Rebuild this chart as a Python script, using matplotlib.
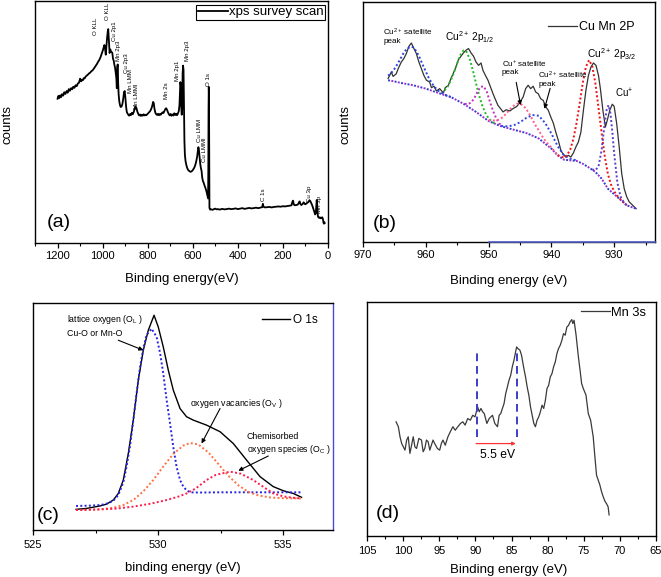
import matplotlib
matplotlib.use('Agg')
import matplotlib.pyplot as plt
from matplotlib.ticker import MultipleLocator

plt.rcParams['font.family'] = ['Liberation Sans', 'DejaVu Sans']
plt.rcParams['mathtext.fontset'] = 'custom'
plt.rcParams['mathtext.rm'] = 'Liberation Sans'
plt.rcParams['mathtext.it'] = 'Liberation Sans:italic'
plt.rcParams['mathtext.default'] = 'rm'

# ---------------- (a) survey scan ----------------
survey_pts = [
    (1200, 59.6), (1196, 60.8), (1192, 59.9), (1188, 61.0), (1184, 60.3), (1180, 61.5), (1175, 60.9),
    (1170, 62.3), (1165, 61.6), (1160, 62.8), (1155, 62.1), (1150, 63.6), (1145, 62.9), (1140, 64.0),
    (1135, 63.5), (1130, 64.6), (1125, 64.1), (1120, 65.2), (1115, 64.8), (1110, 65.9), (1105, 66.2),
    (1100, 67.9), (1096, 66.8), (1092, 67.5), (1088, 67.2), (1084, 68.1), (1080, 68.0), (1075, 68.8),
    (1070, 69.2), (1065, 69.6), (1060, 70.1), (1055, 70.4), (1050, 71.0), (1045, 71.3), (1040, 71.9),
    (1035, 72.6), (1030, 73.3), (1025, 74.0), (1020, 74.9), (1015, 75.6), (1010, 76.6), (1005, 77.9),
    (1000, 79.3), (996, 80.6), (992, 81.8), (989, 80.2), (986, 77.8), (983, 81.5), (980, 85.0),
    (977, 87.5), (975, 88.4), (973, 85.0), (971, 81.0), (969, 78.5), (966, 80.0), (963, 79.2),
    (960, 78.9), (957, 78.6), (954, 76.2), (951, 75.4), (948, 73.8), (945, 72.5), (942, 70.5),
    (939, 68.0), (937, 64.0), (935, 72.8), (933, 73.8), (931, 66.0), (929, 61.5), (926, 58.5),
    (923, 57.0), (920, 56.2), (916, 56.4), (912, 57.5), (908, 60.0), (905, 62.3), (902, 62.8),
    (899, 60.0), (896, 56.5), (893, 54.3), (890, 53.6), (886, 53.0), (882, 52.6), (878, 53.3),
    (874, 52.9), (870, 53.8), (866, 53.2), (862, 54.1), (858, 55.4), (854, 56.4), (850, 55.8),
    (846, 54.3), (842, 53.4), (838, 52.7), (834, 53.1), (830, 52.5), (826, 53.0), (822, 52.6),
    (818, 53.2), (814, 52.7), (810, 53.0), (806, 52.8), (800, 53.4), (795, 53.9), (790, 54.4),
    (785, 55.2), (780, 56.6), (776, 58.3), (773, 57.8), (770, 55.5), (766, 53.8), (762, 53.2),
    (758, 52.9), (754, 53.4), (750, 52.8), (746, 53.3), (742, 53.0), (738, 53.6), (734, 54.0),
    (730, 53.7), (726, 54.5), (722, 55.3), (718, 55.7), (714, 55.0), (710, 54.0), (706, 53.2),
    (702, 52.7), (698, 53.3), (694, 52.6), (690, 53.1), (686, 52.7), (682, 53.6), (678, 52.9),
    (674, 53.4), (670, 52.8), (666, 53.5), (662, 54.5), (659, 57.0), (657, 62.0), (655, 66.5),
    (653, 65.0), (651, 56.0), (649, 53.0), (647, 55.0), (645, 70.0), (643, 73.3), (641, 71.5),
    (639, 55.0), (637, 42.0), (635, 36.5), (632, 33.8), (628, 32.0), (624, 30.8), (620, 30.1),
    (615, 29.7), (610, 29.4), (605, 29.6), (600, 30.1), (596, 30.7), (592, 31.4), (588, 32.5),
    (584, 34.0), (580, 36.0), (577, 38.5), (575, 39.6), (573, 38.8), (570, 36.0), (567, 32.8),
    (564, 31.0), (561, 29.8), (558, 27.0), (555, 25.6), (552, 25.0), (548, 23.8), (544, 22.8),
    (540, 21.6), (537, 20.4), (534, 19.0), (532, 18.4), (531, 30.0), (530, 55.0), (529, 64.5),
    (528, 60.0), (527, 30.0), (526, 14.5), (523, 13.8), (518, 13.9), (512, 13.7), (506, 14.0),
    (500, 14.2), (494, 13.9), (488, 14.0), (480, 13.8), (470, 14.1), (460, 13.9), (450, 14.0),
    (440, 14.2), (430, 14.0), (420, 14.1), (410, 14.3), (400, 14.0), (390, 14.2), (380, 14.4),
    (370, 14.1), (360, 14.3), (350, 14.5), (340, 14.3), (330, 14.4), (320, 14.6), (310, 14.4),
    (300, 14.6), (292, 14.8), (289, 16.2), (286, 15.0), (280, 14.7), (270, 14.8), (260, 14.9),
    (250, 14.7), (240, 14.9), (230, 15.0), (220, 15.1), (210, 15.0), (200, 15.2), (190, 15.1),
    (180, 15.3), (170, 15.4), (162, 15.6), (158, 17.0), (155, 17.5), (152, 16.0), (148, 15.6),
    (140, 15.7), (134, 15.9), (130, 16.5), (126, 17.2), (122, 16.0), (118, 15.7), (112, 16.2),
    (108, 16.8), (104, 16.2), (100, 16.0), (95, 16.4), (90, 16.7), (86, 17.2), (82, 17.6),
    (79, 17.4), (76, 16.8), (72, 16.0), (68, 15.0), (64, 13.8), (60, 12.5), (57, 11.8),
    (54, 12.5), (52, 15.5), (50, 17.8), (48, 16.0), (46, 12.0), (44, 10.8), (40, 10.4),
    (36, 10.6), (32, 10.2), (28, 10.5), (25, 10.6), (22, 9.6), (20, 8.4), (18, 8.0), (16, 8.6), (15, 8.2)]
survey_energy = [p[0] for p in survey_pts]
survey_counts = [p[1] for p in survey_pts]

survey_labels = ["O KLL", "O KLL", "Cu 2p1", "Mn 2p3", "Cu 2p3", "Mn LMM", "Mn LMMl", "Mn 2s",
                 "Mn 2p1", "Mn 2p3", "O 1s", "Cu LMM", "Cu LMMl", "C 1s", "Cu 3p", "Mn 3p"]
survey_label_E = [1033, 978, 946, 928, 896, 875, 851, 718, 667, 622, 529, 572, 546, 284, 81, 37]
survey_label_y = [89.7, 95.6, 87.5, 79.5, 74.4, 66.8, 60.5, 63.0, 71.0, 79.5, 67.5, 46.5, 38.5, 20.0, 20.5, 15.8]

# ---------------- (b) Cu Mn 2p ----------------
cu_E = [966.0, 965.5, 965.2, 964.7, 964.4, 963.9, 963.5, 963.1, 962.7, 962.3, 962.0, 961.5, 961.1, 960.7,
        960.3, 959.9, 959.4, 959.1, 958.7, 958.3, 957.8, 957.2, 956.9, 956.4, 956.0, 955.6, 955.2, 954.8,
        954.4, 954.0, 953.6, 953.2, 952.8, 952.4, 952.0, 951.6, 951.2, 950.9, 950.5, 950.1, 949.7, 949.3,
        948.9, 948.5, 948.1, 947.7, 947.2, 946.6, 946.1, 945.5, 945.0, 944.5, 944.1, 943.7, 943.3, 942.9,
        942.5, 942.1, 941.7, 941.3, 940.9, 940.5, 940.1, 939.7, 939.3, 938.9, 938.5, 938.1, 937.7, 937.3,
        936.9, 936.5, 936.1, 935.7, 935.3, 934.9, 934.5, 934.1, 933.7, 933.3, 932.9, 932.5, 932.2, 931.8,
        931.4, 931.1, 930.7, 930.3, 930.0, 929.6, 929.2, 928.8, 928.4, 928.0, 927.6, 927.2, 926.8, 926.5]
cu_counts = [68.1, 70.8, 69.0, 70.1, 72.2, 75.0, 76.4, 78.5, 81.5, 82.9, 81.2, 78.5, 75.0, 72.2,
             69.4, 67.4, 66.7, 64.3, 64.9, 62.9, 63.9, 62.1, 64.3, 65.3, 68.1, 70.4, 72.9, 76.0,
             77.4, 78.8, 79.9, 80.6, 78.8, 77.4, 75.0, 73.6, 74.6, 71.5, 69.4, 67.4, 64.6, 61.8,
             59.3, 56.9, 55.6, 54.2, 55.1, 54.6, 55.6, 56.5, 58.3, 60.4, 63.9, 65.3, 63.9, 64.9,
             62.5, 61.8, 59.7, 59.0, 56.3, 54.9, 52.1, 49.6, 45.8, 42.4, 38.2, 36.5, 35.4, 36.1,
             35.4, 37.1, 39.6, 41.7, 45.8, 54.9, 63.2, 69.4, 72.9, 74.6, 73.6, 69.4, 63.9, 54.9,
             47.9, 50.7, 54.9, 57.4, 56.5, 49.3, 39.6, 28.5, 22.2, 18.8, 16.7, 15.7, 14.6, 13.9]

bg_E = [966, 965, 964, 963, 962, 961, 960, 959, 958, 957, 956, 955, 954, 953, 952, 951, 950, 949, 948,
        947, 946, 945, 944, 943, 942, 941, 940, 939, 938, 937, 936, 935, 934, 933, 932, 931, 930, 929,
        928, 927, 926.5]
bg_counts = [67.4, 66.9, 66.3, 65.8, 65.3, 64.6, 63.9, 63.0, 62.1, 61.2, 60.4, 59.0, 57.6, 55.9, 54.2,
             52.3, 50.4, 49.3, 48.2, 47.5, 46.8, 46.1, 45.4, 44.3, 43.1, 41.0, 38.9, 36.1, 34.3, 34.0,
             33.8, 32.6, 31.0, 29.2, 26.4, 22.2, 19.9, 17.6, 15.3, 14.3, 13.9]

sat1_E = [966, 965.5, 965, 964.5, 964, 963.5, 963, 962.3, 962, 961.5, 961, 960.5, 960, 959.5, 959, 958.5, 958, 957, 956]
sat1_counts = [69.3, 70.4, 72.1, 74.2, 76.5, 78.9, 80.6, 81.4, 81.1, 79.5, 76.9, 73.9, 71.0, 68.2, 66.0, 64.3, 63.0, 61.4, 60.4]

p12_E = [957, 956.5, 956, 955.5, 955, 954.5, 954, 953.7, 953.5, 953, 952.5, 952, 951.5, 951, 950.5, 950, 949.5, 949]
p12_counts = [63.2, 64.8, 67.4, 70.7, 74.5, 77.9, 79.8, 79.7, 79.2, 76.2, 71.5, 66.1, 61.0, 56.8, 53.7, 51.5, 50.3, 49.3]

mg_E = [953.8, 953.3, 952.8, 952.3, 951.8, 951.3, 950.8, 950.3, 949.8, 949.3, 948.8, 948.3, 947.8]
mg_counts = [57.6, 57.4, 58.1, 59.8, 62.4, 64.6, 64.9, 62.7, 58.5, 54.7, 51.6, 49.4, 48.4]

sat2_E = [950, 949, 948.5, 948, 947.5, 947, 946.5, 946, 945.5, 945, 944.5, 944, 943.5, 943, 942.5, 942, 941.5, 941, 940.5, 940, 939]
sat2_counts = [50.8, 50.6, 50.9, 51.5, 52.7, 54.1, 55.6, 56.8, 57.6, 57.6, 56.9, 55.4, 53.3, 50.9, 48.5, 46.4, 44.2, 42.3, 40.7, 39.3, 36.2]

sat3_E = [948, 947, 946, 945, 944, 943, 942, 941, 940, 939, 938, 937, 936]
sat3_counts = [48.4, 48.2, 48.6, 49.9, 51.7, 52.9, 52.6, 49.6, 45.2, 39.9, 36.1, 34.7, 34.0]

p32_E = [939, 938, 937.5, 937, 936.5, 936, 935.5, 935, 934.5, 934, 933.5, 933, 932.5, 932, 931.5, 931,
         930.5, 930, 929.5, 929, 928]
p32_counts = [36.2, 35.1, 36.2, 38.5, 42.9, 49.5, 57.6, 66.3, 73.0, 75.8, 73.3, 66.2, 56.0, 45.4, 35.7,
              28.3, 23.9, 21.1, 19.2, 17.75, 15.3]

cup_E = [933.5, 933, 932.5, 932, 931.5, 931.2, 930.9, 930.6, 930.3, 930, 929.5, 929, 928.5, 928]
cup_counts = [30.2, 29.9, 31.4, 38.3, 49.7, 55.1, 57.0, 53.7, 46.0, 36.9, 24.9, 19.0, 16.6, 15.3]

# ---------------- (c) O 1s ----------------
o_E = [526.71, 527.13, 527.67, 527.93, 528.2, 528.4, 528.6, 528.8, 529.0, 529.2, 529.4, 529.6, 529.83,
       530.0, 530.2, 530.4, 530.6, 530.87, 531.13, 531.4, 531.93, 532.47, 533.0, 533.53, 534.07, 534.6,
       535.0, 535.4, 535.73]
o_counts = [9.1, 9.5, 10.6, 11.4, 13.2, 16.1, 22.0, 33.7, 48.4, 66.0, 79.2, 88.0, 94.6,
            89.4, 80.6, 70.4, 61.6, 53.5, 49.9, 48.4, 46.2, 43.3, 38.1, 30.8, 23.5, 19.1,
            17.3, 16.1, 14.4]

ol_E = [526.71, 527.2, 527.7, 528.0, 528.2, 528.4, 528.6, 528.73, 528.87, 529.0, 529.13, 529.27, 529.4,
        529.53, 529.73, 529.93, 530.07, 530.2, 530.33, 530.47, 530.6, 530.73, 530.87, 531.0, 531.13,
        531.27, 531.6, 532.5, 533.5, 534.5, 535.73]
ol_counts = [10.6, 10.7, 11.0, 11.8, 12.9, 15.4, 21.0, 27.9, 37.0, 48.4, 60.0, 71.8, 80.0,
             85.9, 88.7, 85.1, 78.0, 68.9, 57.5, 46.9, 36.5, 27.9, 22.0, 19.1, 17.5,
             16.6, 16.5, 16.6, 16.6, 16.6, 16.6]

ov_E = [526.71, 527.2, 527.7, 528.2, 528.6, 529.0, 529.4, 529.8, 530.2, 530.6, 531.0, 531.27, 531.6,
        532.0, 532.4, 532.8, 533.2, 533.6, 534.0, 534.5, 535.0, 535.73]
ov_counts = [8.8, 8.9, 9.1, 9.8, 11.0, 13.2, 17.0, 22.0, 28.0, 33.5, 37.2, 38.3, 37.7,
             34.2, 29.1, 23.9, 19.7, 16.8, 15.2, 14.3, 14.0, 13.9]

oc_E = [526.71, 527.5, 528.3, 529.0, 529.7, 530.33, 530.8, 531.13, 531.5, 531.93, 532.3, 532.87, 533.3,
        533.8, 534.2, 534.6, 535.0, 535.4, 535.73]
oc_counts = [8.8, 9.0, 9.4, 10.3, 11.6, 13.2, 14.7, 16.1, 18.3, 22.0, 24.3, 25.7, 24.8,
             22.0, 19.0, 16.1, 14.8, 14.2, 13.9]

# ---------------- (d) Mn 3s ----------------
mn_E = [100.98, 100.66, 100.43, 100.2, 99.97, 99.74, 99.51, 99.29, 99.06, 98.83, 98.6, 98.37, 98.14,
        97.82, 97.46, 97.23, 97.0, 96.77, 96.54, 96.31, 96.09, 95.86, 95.63, 95.26, 94.94, 94.71, 94.49,
        94.17, 93.8, 93.48, 93.11, 92.79, 92.43, 92.06, 91.74, 91.42, 91.06, 90.69, 90.37, 90.05, 89.69,
        89.46, 89.23, 89.0, 88.77, 88.41, 88.09, 87.86, 87.63, 87.31, 86.94, 86.71, 86.49, 86.26, 86.03,
        85.8, 85.57, 85.34, 85.11, 84.89, 84.66, 84.43, 84.29, 84.11, 83.83, 83.61, 83.29, 83.06, 82.83,
        82.6, 82.37, 82.14, 81.91, 81.69, 81.46, 81.23, 81.0, 80.77, 80.54, 80.31, 80.09, 79.86, 79.63,
        79.4, 79.17, 78.94, 78.71, 78.49, 78.26, 78.03, 77.8, 77.57, 77.34, 77.11, 76.89, 76.66, 76.51,
        76.34, 76.06, 75.74, 75.51, 75.29, 75.06, 74.69, 74.37, 74.05, 73.69, 73.46, 73.23, 73.0, 72.77,
        72.54, 72.31, 72.04, 71.86, 71.63, 71.49]
mn_counts = [48.8, 46.7, 42.4, 39.5, 38.1, 36.7, 41.0, 42.4, 35.3, 38.8, 42.4, 38.1, 37.4,
             41.7, 41.0, 36.0, 37.4, 41.0, 40.3, 36.7, 38.8, 41.0, 39.5, 37.4, 36.7, 39.5, 41.0,
             38.8, 42.4, 44.5, 46.7, 45.2, 46.7, 48.1, 48.8, 47.4, 50.2, 49.5, 51.6, 50.9, 55.2,
             53.1, 54.5, 53.1, 52.3, 48.1, 50.2, 50.9, 51.6, 48.1, 46.7, 51.6, 52.3, 54.5, 56.6,
             60.9, 63.7, 66.6, 68.7, 72.3, 75.1, 78.7, 80.8, 80.1, 79.4, 77.2, 71.6, 68.0, 63.7,
             60.2, 55.2, 51.6, 48.1, 46.7, 49.5, 50.9, 53.1, 55.9, 54.5, 58.0, 63.0, 64.4, 68.0,
             69.4, 72.3, 74.4, 78.0, 80.1, 81.5, 83.6, 86.5, 85.8, 89.3, 90.0, 91.5, 92.5, 90.8,
             92.2, 85.8, 76.5, 70.8, 65.1, 63.0, 60.2, 52.3, 49.5, 42.4, 33.9, 26.0, 23.9, 21.8,
             19.0, 16.8, 14.7, 13.9, 12.5, 9.0]
split_E = [89.8, 84.3]
split_top = [80.1, 79.4]
split_bottom = 42.4
split_arrow_y = 39.5

# ---------------- figure ----------------
fig = plt.figure(figsize=(6.61, 5.77), dpi=100)
W, H = 661.0, 577.0

def add_ax(x0, y0, x1, y1):
    return fig.add_axes([x0 / W, 1 - y1 / H, (x1 - x0) / W, (y1 - y0) / H])

axA = add_ax(35, 1, 328, 243)
axB = add_ax(363, 2, 655, 242)
axC = add_ax(33.3, 303, 333.3, 530)
axD = add_ax(367, 302, 656, 536)

TICK_FS = 8
LAB_FS = 9.5

def style(ax, xlim, major, minor, pad=2.0):
    ax.set_xlim(*xlim)
    ax.set_ylim(0, 100)
    ax.set_yticks([])
    ax.xaxis.set_major_locator(MultipleLocator(major))
    ax.xaxis.set_minor_locator(MultipleLocator(minor))
    ax.tick_params(axis='x', which='major', direction='out', length=3.5, width=0.9,
                   labelsize=TICK_FS, pad=pad)
    ax.tick_params(axis='x', which='minor', direction='out', length=2.0, width=0.8)
    for s in ax.spines.values():
        s.set_linewidth(1.0)

# (a)
style(axA, (1300, 0), 200, 100)
axA.plot(survey_energy, survey_counts, color='black', lw=1.3, label='xps survey scan')
for t, e, y in zip(survey_labels, survey_label_E, survey_label_y):
    axA.text(e, y, t, rotation=90, fontsize=4.4, ha='center', va='center')
axA.set_xlabel('Binding energy(eV)', fontsize=LAB_FS)
axA.xaxis.set_label_coords(0.5, -0.125)
axA.set_ylabel('counts', fontsize=LAB_FS)
axA.yaxis.set_label_coords(-0.073, 0.49)
axA.text(0.041, 0.083, '(a)', transform=axA.transAxes, fontsize=14, ha='left', va='center')
legA = axA.legend(loc='upper right', bbox_to_anchor=(0.99, 0.985), borderaxespad=0, fontsize=9.5,
                  frameon=True, fancybox=False, edgecolor='black', framealpha=1, borderpad=0.12,
                  handlelength=2.3, handletextpad=0.05)
legA.get_frame().set_linewidth(0.8)

# (b)
style(axB, (970, 923.5), 10, 5)
axB.plot([950, 923.5], [0, 0], color='#5560c8', lw=1.2, clip_on=False, zorder=5)
axB.plot(cu_E, cu_counts, color='#333333', lw=0.9, label='Cu Mn 2P')
dot = (0, (1, 1.2))
axB.plot(bg_E, bg_counts, color='#2b3fd6', lw=1.4, ls=(0, (1, 2.4)))
axB.plot(bg_E, bg_counts, color='#9b30d0', lw=1.4, ls=(1.7, (1, 2.4)))
axB.plot(sat1_E, sat1_counts, color='#2b3fd6', lw=1.4, ls=dot)
axB.plot(p12_E, p12_counts, color='#22bb22', lw=1.4, ls=dot)
axB.plot(mg_E, mg_counts, color='#c030c0', lw=1.4, ls=dot)
axB.plot(sat2_E, sat2_counts, color='#ff5c8a', lw=1.4, ls=dot)
axB.plot(sat3_E, sat3_counts, color='#3048e0', lw=1.4, ls=dot)
axB.plot(p32_E, p32_counts, color='#ee1111', lw=1.4, ls=dot)
axB.plot(cup_E, cup_counts, color='#5a3cc8', lw=1.4, ls=dot)
axB.set_xlabel('Binding energy (eV)', fontsize=LAB_FS)
axB.xaxis.set_label_coords(0.5, -0.1375)
axB.set_ylabel('counts', fontsize=LAB_FS)
axB.yaxis.set_label_coords(-0.04, 0.49)
axB.text(0.034, 0.079, '(b)', transform=axB.transAxes, fontsize=14, ha='left', va='center')
axB.text(966.8, 85.8, 'Cu$^{2+}$ satellite\npeak', fontsize=5.8, ha='left', va='center', linespacing=1.1)
axB.text(957.0, 85.4, 'Cu$^{2+}$ 2p$_{1/2}$', fontsize=7.3, ha='left', va='center')
axB.text(947.9, 72.8, 'Cu$^{+}$ satellite\npeak', fontsize=5.8, ha='left', va='center', linespacing=1.1)
axB.text(942.1, 68.0, 'Cu$^{2+}$ satellite\npeak', fontsize=5.8, ha='left', va='center', linespacing=1.1)
axB.text(934.4, 78.5, 'Cu$^{2+}$ 2p$_{3/2}$', fontsize=7.3, ha='left', va='center')
axB.text(929.9, 61.8, 'Cu$^{+}$', fontsize=7, ha='left', va='center')
arrow = dict(arrowstyle='-|>', color='black', lw=0.8, mutation_scale=6, shrinkA=0, shrinkB=0)
axB.annotate('', xy=(944.9, 57.0), xytext=(945.6, 66.5), arrowprops=arrow)
axB.annotate('', xy=(941.1, 55.5), xytext=(940.2, 64.0), arrowprops=arrow)
axB.legend(loc='center left', bbox_to_anchor=(0.634, 0.896), borderaxespad=0, borderpad=0,
           fontsize=9, frameon=False, handlelength=2.3, handletextpad=0.2)

# (c)
style(axC, (525, 537), 5, 2.5, pad=3.5)
axC.spines['right'].set_color('#4a4ad8')
axC.plot(o_E, o_counts, color='black', lw=1.0, label='O 1s')
axC.plot(ol_E, ol_counts, color='#2424e0', lw=1.4, ls=dot)
axC.plot(ov_E, ov_counts, color='#ff7043', lw=1.4, ls=dot)
axC.plot(oc_E, oc_counts, color='#ff1a4a', lw=1.4, ls=dot)
axC.set_xlabel('binding energy (eV)', fontsize=LAB_FS)
axC.xaxis.set_label_coords(0.5, -0.141)
axC.text(0.012, 0.066, '(c)', transform=axC.transAxes, fontsize=14, ha='left', va='center')
axC.text(526.33, 92.7, 'lattice oxygen (O$_{L}$ )', fontsize=6.3, ha='left', va='center')
axC.text(526.33, 86.5, 'Cu-O or Mn-O', fontsize=6.3, ha='left', va='center')
axC.text(531.27, 55.7, 'oxygen vacancies (O$_{V}$ )', fontsize=6.3, ha='left', va='center')
axC.text(533.53, 41.1, 'Chemisorbed', fontsize=6.3, ha='left', va='center')
axC.text(533.53, 35.6, 'oxygen species (O$_{C}$ )', fontsize=6.3, ha='left', va='center')
axC.annotate('', xy=(529.4, 79.2), xytext=(528.4, 83.6), arrowprops=arrow)
axC.annotate('', xy=(531.73, 38.1), xytext=(532.47, 53.5), arrowprops=arrow)
axC.annotate('', xy=(533.2, 26.1), xytext=(534.4, 32.6), arrowprops=arrow)
axC.legend(loc='center left', bbox_to_anchor=(0.762, 0.925), borderaxespad=0, borderpad=0,
           fontsize=8.5, frameon=False, handlelength=2.4, handletextpad=0.2)

# (d)
style(axD, (105, 65), 5, 2.5, pad=3.5)
axD.plot(mn_E, mn_counts, color='#3a3a3a', lw=0.9, label='Mn 3s')
for e, t in zip(split_E, split_top):
    axD.plot([e, e], [split_bottom, t], color='#3a3fc8', lw=1.4, ls=(0, (4, 2.5)))
axD.annotate('', xy=(split_E[1] + 0.1, split_arrow_y), xytext=(split_E[0] + 0.1, split_arrow_y),
             arrowprops=dict(arrowstyle='-|>', color='#ff3333', lw=0.9, mutation_scale=5,
                             shrinkA=0, shrinkB=0))
axD.text(86.9, 34.6, '5.5 eV', fontsize=8.7, ha='center', va='center')
axD.set_xlabel('Binding energy (eV)', fontsize=LAB_FS)
axD.xaxis.set_label_coords(0.49, -0.118)
axD.text(0.031, 0.098, '(d)', transform=axD.transAxes, fontsize=14, ha='left', va='center')
axD.legend(loc='center left', bbox_to_anchor=(0.74, 0.953), borderaxespad=0, borderpad=0,
           fontsize=9.3, frameon=False, handlelength=2.25, handletextpad=0.1)

fig.savefig('out.png', dpi=100)
